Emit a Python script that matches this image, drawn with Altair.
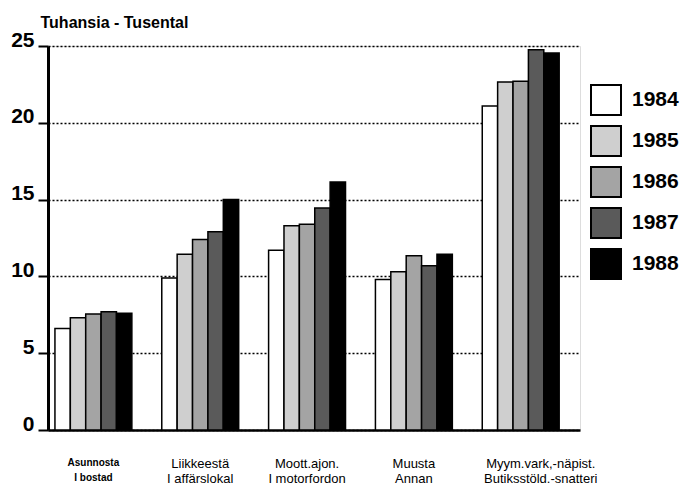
import altair as alt
import pandas as pd

categories = ["Asunnosta|I bostad", "Liikkeestä|I affärslokal", "Moott.ajon.|I motorfordon",
              "Muusta|Annan", "Myym.vark,-näpist.|Butiksstöld.-snatteri"]
years = ["1984", "1985", "1986", "1987", "1988"]
v1984 = [6.6, 9.9, 11.7, 9.8, 21.1]
v1985 = [7.3, 11.45, 13.3, 10.3, 22.65]
v1986 = [7.55, 12.4, 13.4, 11.35, 22.7]
v1987 = [7.7, 12.9, 14.45, 10.7, 24.75]
v1988 = [7.6, 15.0, 16.15, 11.45, 24.55]
y_ticks = [0, 5, 10, 15, 20, 25]
colors = ["#ffffff", "#cfcfcf", "#a4a4a4", "#5a5a5a", "#000000"]

series = [v1984, v1985, v1986, v1987, v1988]
rows = []
for yr, vals in zip(years, series):
    for c, v in zip(categories, vals):
        rows.append({"cat": c, "year": yr, "value": v})
df = pd.DataFrame(rows)

FONT = "Liberation Sans"

bars = alt.Chart(df).mark_bar(stroke="black", strokeWidth=1.5).encode(
    x=alt.X("cat:N", sort=categories,
            scale=alt.Scale(paddingInner=0.28, paddingOuter=0.13, align=0.25),
            axis=alt.Axis(title=None, labelAngle=0, ticks=False,
                          labelExpr="split(datum.label, '|')",
                          labelFont=FONT, labelColor="black",
                          labelFontSize={"condition": {"test": "datum.index == 0", "value": 10}, "value": 13},
                          labelFontWeight={"condition": {"test": "datum.index == 0", "value": "bold"}, "value": "normal"},
                          labelOffset={"condition": {"test": "datum.index == 1", "value": 20}, "value": 0},
                          labelLineHeight=15, labelPadding=27,
                          domainColor="black", domainWidth=2.5)),
    xOffset=alt.XOffset("year:N", sort=years, scale=alt.Scale(paddingInner=0, paddingOuter=0)),
    y=alt.Y("value:Q", scale=alt.Scale(domain=[0, 25], nice=False),
            axis=alt.Axis(values=y_ticks, title="Tuhansia - Tusental",
                          titleAngle=0, titleX=-8, titleY=-19, titleAlign="left",
                          titleBaseline="alphabetic", titleFont=FONT, titleFontSize=16,
                          titleFontWeight="bold", titleColor="black",
                          labelFont=FONT, labelFontSize=21, labelFontWeight="bold",
                          labelColor="black", labelBaseline="alphabetic", labelPadding=4,
                          tickSize=10, tickWidth=2, tickColor="black",
                          domainColor="black", domainWidth=3,
                          grid=True, gridColor="black", gridDash=[2, 2], gridWidth=1.5)),
    fill=alt.Fill("year:N", sort=years,
                  scale=alt.Scale(domain=years, range=colors),
                  legend=alt.Legend(title=None, orient="none", legendX=542, legendY=38,
                                    symbolType="square", symbolSize=900,
                                    symbolStrokeColor="black", symbolStrokeWidth=2,
                                    labelFont=FONT, labelFontSize=21, labelFontWeight="bold",
                                    labelColor="black", labelOffset=10, rowPadding=3)),
)

chart = bars.properties(
    width=532, height=384,
    autosize=alt.AutoSizeParams(type="none"),
    padding={"left": 40, "top": 38, "right": 101, "bottom": 56},
).configure_view(stroke=None).configure(background="white")

chart.save("out.html", embed_options={"renderer": "svg", "actions": False})
